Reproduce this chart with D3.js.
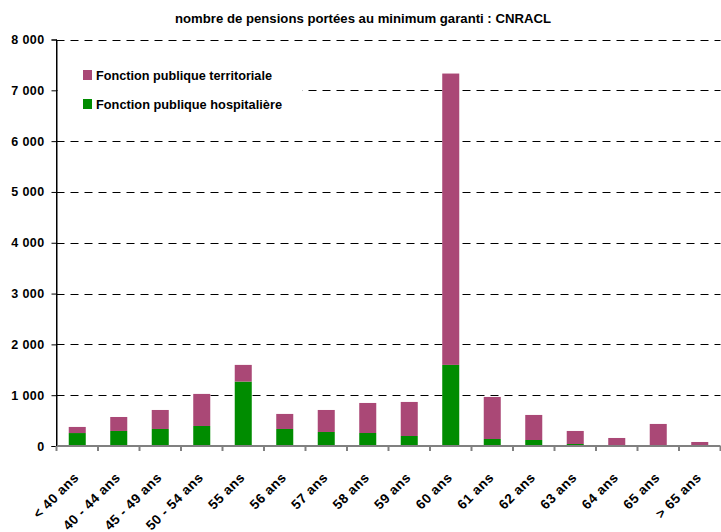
<!DOCTYPE html>
<html><head><meta charset="utf-8">
<script src="https://cdn.jsdelivr.net/npm/d3@7"></script>
<style>
body{margin:0;background:#fff;}
text{font-family:"Liberation Sans Narrow","Arial Narrow","Liberation Sans",Arial,sans-serif;font-weight:bold;fill:#000;}
</style></head>
<body><svg id="c" width="721" height="532"></svg>
<script>
const categories = ["< 40 ans","40 - 44 ans","45 - 49 ans","50 - 54 ans","55 ans","56 ans","57 ans","58 ans","59 ans","60 ans","61 ans","62 ans","63 ans","64 ans","65 ans","> 65 ans"];
const hospitaliere = [255,296,335,394,1268,335,276,256,197,1596,138,118,39,0,0,0];
const territorialeTotal = [375,571,709,1025,1596,631,709,847,867,7330,965,611,296,158,434,79];
const territoriale = territorialeTotal.map((t,i)=>t-hospitaliere[i]);
const yTicks = [0,1000,2000,3000,4000,5000,6000,7000,8000];
const seriesNames = ["Fonction publique territoriale","Fonction publique hospitalière"];
const colors = {terr:"#AA4876", hosp:"#008C00"};
const title = "nombre de pensions portées au minimum garanti : CNRACL";

const svg = d3.select("#c");
const x0 = 56.5, x1 = 720.5, y0 = 446, y1 = 39.5;
const x = d3.scaleBand().domain(categories).range([x0,x1]).paddingInner(0.59).paddingOuter(0.295);
const y = d3.scaleLinear().domain([0,8000]).range([y0,y1]);
const fmt = v => d3.format(",")(v).replace(/,/g," ");

// gridlines
svg.append("g").selectAll("line").data(yTicks.filter(d=>d>0)).join("line")
  .attr("x1",x0).attr("x2",x1).attr("y1",d=>Math.round(y(d))+0.5).attr("y2",d=>Math.round(y(d))+0.5)
  .attr("stroke","#000").attr("stroke-width",1).attr("stroke-dasharray","8,6");

// legend background
svg.append("rect").attr("x",x0+1).attr("y",55).attr("width",245).attr("height",70).attr("fill","#fff");

// stacked bars
const stackData = categories.map((c,i)=>({cat:c,hosp:hospitaliere[i],terr:territoriale[i]}));
const stack = d3.stack().keys(["hosp","terr"])(stackData);
svg.append("g").selectAll("g").data(stack).join("g")
  .attr("fill",d=>colors[d.key])
  .selectAll("rect").data(d=>d).join("rect")
  .attr("x",d=>x(d.data.cat)).attr("width",x.bandwidth())
  .attr("y",d=>y(d[1])).attr("height",d=>y(d[0])-y(d[1]));

// y axis
const yAxis = d3.axisLeft(y).tickValues(yTicks).tickFormat(fmt).tickSize(5).tickPadding(7);
const ga = svg.append("g").attr("transform",`translate(${x0},0)`).call(yAxis);
ga.select(".domain").attr("stroke","#000");
ga.selectAll(".tick line").attr("stroke","#000");
ga.selectAll("text").style("font-size","12.5px").attr("letter-spacing","0.4px");

// x axis
const xb = d3.scaleLinear().domain([0,categories.length]).range([x0,x1]);
const xa = svg.append("g").attr("transform",`translate(0,${y0})`);
xa.append("line").attr("x1",x0).attr("x2",x1).attr("stroke","#808080").attr("stroke-width",2);
xa.selectAll("line.t").data(d3.range(categories.length+1)).join("line").attr("class","t")
  .attr("x1",d=>xb(d)).attr("x2",d=>xb(d)).attr("y1",0).attr("y2",5)
  .attr("stroke","#808080").attr("stroke-width",2);
xa.selectAll("text").data(categories).join("text")
  .attr("transform",d=>`translate(${x(d)+x.bandwidth()/2-1},${29}) rotate(-45)`)
  .attr("text-anchor","end").attr("dy","0.35em")
  .style("font-size","13.5px").attr("letter-spacing","0.5px").text(d=>d);
svg.append("line").attr("x1",x0).attr("x2",x0).attr("y1",y1).attr("y2",y0).attr("stroke","#000");

// legend
const lg = svg.append("g");
const lcol = [colors.terr, colors.hosp];
const lw = [176,186];
seriesNames.forEach((n,i)=>{
  lg.append("rect").attr("x",83).attr("y",70+i*29).attr("width",9).attr("height",10).attr("fill",lcol[i]);
  lg.append("text").attr("x",96).attr("y",75+i*29).attr("dy","0.35em")
    .attr("textLength",lw[i]).attr("lengthAdjust","spacingAndGlyphs")
    .style("font-size","13.5px").text(n);
});

// title
svg.append("text").attr("x",363).attr("y",23).attr("text-anchor","middle")
  .attr("textLength",376).attr("lengthAdjust","spacingAndGlyphs")
  .style("font-size","12.5px").text(title);
</script></body></html>
